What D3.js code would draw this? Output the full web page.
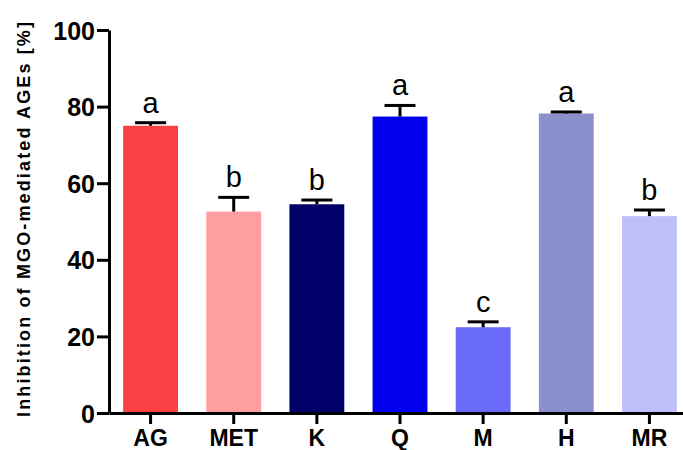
<!DOCTYPE html>
<html>
<head>
<meta charset="utf-8">
<script src="https://cdn.jsdelivr.net/npm/d3@7"></script>
<style>
  body { margin: 0; background: #fff; }
  svg { display: block; font-family: "Liberation Sans", Arial, sans-serif; }
</style>
</head>
<body>
<div class="chart"></div>
<script>
const dims = { width: 683, height: 450 };
const margin = { top: 30, right: 0, bottom: 37, left: 109 };

// data
const groups = ["AG", "MET", "K", "Q", "M", "H", "MR"];
const means = [75.0, 52.6, 54.5, 77.4, 22.4, 78.2, 51.4];
const errors = [0.8, 3.7, 1.1, 2.9, 1.4, 0.4, 1.6];
const letters = ["a", "b", "b", "a", "c", "a", "b"];
const colors = ["#fa4042", "#ff9e9e", "#000068", "#0000ee", "#6b6bf9", "#8a90cc", "#bfbffc"];
const yTicks = [0, 20, 40, 60, 80, 100];

const svg = d3.select(".chart")
              .append("svg")
              .attr("width", dims.width)
              .attr("height", dims.height);

const x = d3.scaleBand().domain(groups)
            .range([margin.left, dims.width - margin.right + 8])
            .paddingInner(0.34).paddingOuter(0.17);
const y = d3.scaleLinear().domain([0, 100])
            .range([dims.height - margin.bottom, margin.top]);

// bars
svg.selectAll(".bar").data(groups).enter().append("rect")
   .attr("class", "bar")
   .attr("x", d => x(d))
   .attr("width", x.bandwidth())
   .attr("y", (d, i) => y(means[i]))
   .attr("height", (d, i) => y(0) - y(means[i]))
   .attr("fill", (d, i) => colors[i]);

// error bars (upper only)
const capW = 31;
const err = svg.selectAll(".err").data(groups).enter().append("g").attr("class", "err")
   .attr("stroke", "#000").attr("stroke-width", 3);
err.append("line")
   .attr("x1", d => x(d) + x.bandwidth() / 2)
   .attr("x2", d => x(d) + x.bandwidth() / 2)
   .attr("y1", (d, i) => y(means[i]))
   .attr("y2", (d, i) => y(means[i] + errors[i]));
err.append("line")
   .attr("x1", d => x(d) + x.bandwidth() / 2 - capW / 2)
   .attr("x2", d => x(d) + x.bandwidth() / 2 + capW / 2)
   .attr("y1", (d, i) => y(means[i] + errors[i]))
   .attr("y2", (d, i) => y(means[i] + errors[i]));

// significance letters
svg.selectAll(".sig").data(groups).enter().append("text")
   .attr("class", "sig")
   .attr("text-anchor", "middle")
   .attr("x", d => x(d) + x.bandwidth() / 2)
   .attr("y", (d, i) => y(means[i] + errors[i]) - 10)
   .attr("font-size", 29)
   .text((d, i) => letters[i]);

// axes
const yAxis = svg.append("g")
   .attr("transform", `translate(${margin.left},0)`)
   .call(d3.axisLeft(y).tickValues(yTicks).tickSize(12).tickPadding(2).tickSizeOuter(0));
const xAxis = svg.append("g")
   .attr("transform", `translate(0,${y(0)})`)
   .call(d3.axisBottom(x).tickSize(11).tickPadding(6).tickSizeOuter(0));

[yAxis, xAxis].forEach(ax => {
  ax.select(".domain").attr("stroke-width", 3);
  ax.selectAll(".tick line").attr("stroke-width", 3);
  ax.selectAll(".tick text")
    .attr("font-size", 23).attr("font-weight", "bold")
    .attr("font-family", "Liberation Sans, Arial, sans-serif")
    .style("fill", "#000");
});
yAxis.selectAll(".tick text").attr("font-size", 25).attr("dy", "0.36em");

svg.append("text")
   .attr("transform", `translate(30,${(y(0) + y(100)) / 2 - 2}) rotate(-90)`)
   .attr("text-anchor", "middle")
   .attr("font-size", 18)
   .attr("font-weight", "bold")
   .attr("textLength", 395)
   .attr("lengthAdjust", "spacing")
   .text("Inhibition of MGO-mediated AGEs [%]");
</script>
</body>
</html>
